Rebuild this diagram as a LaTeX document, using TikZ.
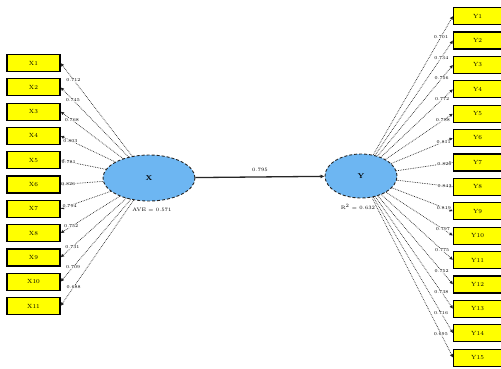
\documentclass[tikz,border=0pt]{standalone}
\usetikzlibrary{shapes.geometric,arrows.meta}
\definecolor{boxyellow}{HTML}{FFFF00}
\definecolor{lvblue}{HTML}{6DB6F2}
\begin{document}
\begin{tikzpicture}[x=1pt,y=-1pt,
 ind/.style={draw=black,line width=1.2pt,fill=boxyellow,minimum width=53,minimum height=17,inner sep=0,font=\fontsize{6}{6}\selectfont},
 lv/.style={ellipse,draw=black!85,densely dashed,line width=0.9pt,fill=lvblue,inner sep=0,font=\fontsize{7}{7}\selectfont\bfseries},
 load/.style={-{Latex[length=3.5pt,width=3.5pt]},densely dotted,line width=0.7pt,draw=black!85},
 lbl/.style={font=\fontsize{4.5}{4.5}\selectfont,inner sep=0.4pt,fill=white,fill opacity=0.8,text opacity=1},
 path/.style={-{Latex[length=4pt,width=4pt]},line width=1.3pt,draw=black!85},
 note/.style={font=\fontsize{5}{5}\selectfont,anchor=north}
]
\useasboundingbox[fill=white] (0,0) rectangle (501,368);
\node[lv,minimum width=92,minimum height=46] (xi) at (149,178) {X};
\node[lv,minimum width=72,minimum height=44] (eta) at (361,176) {Y};
\foreach \i/\v in {1/0.712,2/0.745,3/0.768,4/0.803,5/0.781,6/0.826,7/0.794,8/0.752,9/0.731,10/0.709,11/0.688} {
  \node[ind] (x\i) at (33.5,{63+(\i-1)*24.3}) {X\i};
  \draw[load] (xi) -- (x\i.east) node[lbl,pos=0.82] {\v};
}
\foreach \i/\v in {1/0.701,2/0.734,3/0.756,4/0.772,5/0.788,6/0.811,7/0.826,8/0.843,9/0.819,10/0.797,11/0.775,12/0.752,13/0.738,14/0.716,15/0.695} {
  \node[ind,minimum width=50,anchor=west] (y\i) at (453,{16+(\i-1)*24.4}) {\hspace*{-2pt}Y\i};
  \draw[load] (eta) -- (y\i.west) node[lbl,pos=0.85] {\v};
}
\draw[path] (xi) -- (eta) node[midway,above=1pt,font=\fontsize{5}{5}\selectfont] {0.795};
\node[note] (xir) at (152,204) {AVE = 0.571};
\node[note] (etar) at (358,201) {R\textsuperscript{2} = 0.632};
\end{tikzpicture}
\end{document}
